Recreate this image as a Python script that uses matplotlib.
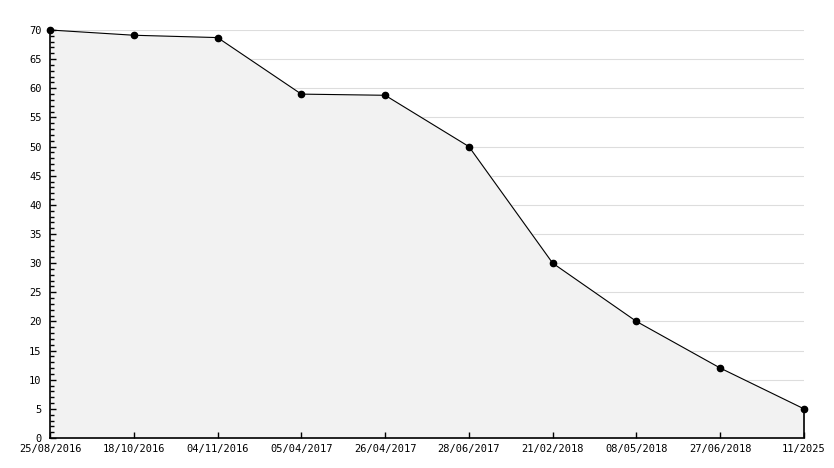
import numpy as np
import matplotlib
matplotlib.use('Agg')
import matplotlib.pyplot as plt
from matplotlib.ticker import MultipleLocator

# Data
dates = ['25/08/2016', '18/10/2016', '04/11/2016', '05/04/2017', '26/04/2017',
         '28/06/2017', '21/02/2018', '08/05/2018', '27/06/2018', '11/2025']
values = [70, 69.1, 68.7, 59, 58.8, 50, 30, 20, 12, 5]
grid_levels = list(range(5, 75, 5))

plt.rcParams['font.family'] = 'DejaVu Sans Mono'

fig = plt.figure(figsize=(8.34, 4.68), dpi=100, facecolor='white')
ax = fig.add_axes([50 / 834, 30 / 468, 754 / 834, 408 / 468])

x = np.arange(len(dates))
# gridlines drawn by hand so the fill covers them but ticks stay on top
for g in grid_levels:
    ax.axhline(g, color='#dddddd', lw=0.8, zorder=1)
ax.fill_between(x, values, 0, color='#f2f2f2', zorder=2)
ax.plot(x, values, color='black', lw=0.8, zorder=3, clip_on=False)
ax.plot(x, values, ls='none', marker='s', markersize=3.5, color='black',
        zorder=6, clip_on=False)
ax.plot(x, values, ls='none', marker='o', markersize=4.5, color='black',
        zorder=6, clip_on=False)
ax.vlines(x[-1], 0, values[-1], color='black', lw=1.2, zorder=5, clip_on=False)

ax.set_xlim(0, len(dates) - 1)
ax.set_ylim(0, 70)
ax.set_xticks(x)
ax.set_xticklabels(dates)
ax.yaxis.set_major_locator(MultipleLocator(5))
ax.yaxis.set_minor_locator(MultipleLocator(1))
ax.set_axisbelow(False)

for side in ['top', 'right']:
    ax.spines[side].set_visible(False)
for side in ['left', 'bottom']:
    ax.spines[side].set_linewidth(1.2)
    ax.spines[side].set_zorder(5)

ax.tick_params(axis='both', which='major', direction='in', length=4.5, width=1,
               labelsize=7.5, colors='black')
ax.tick_params(axis='y', which='minor', direction='in', length=3, width=1)
ax.tick_params(axis='y', which='major', pad=6)
ax.tick_params(axis='x', which='major', pad=4)

fig.savefig('out.png', dpi=100)
plt.close(fig)
